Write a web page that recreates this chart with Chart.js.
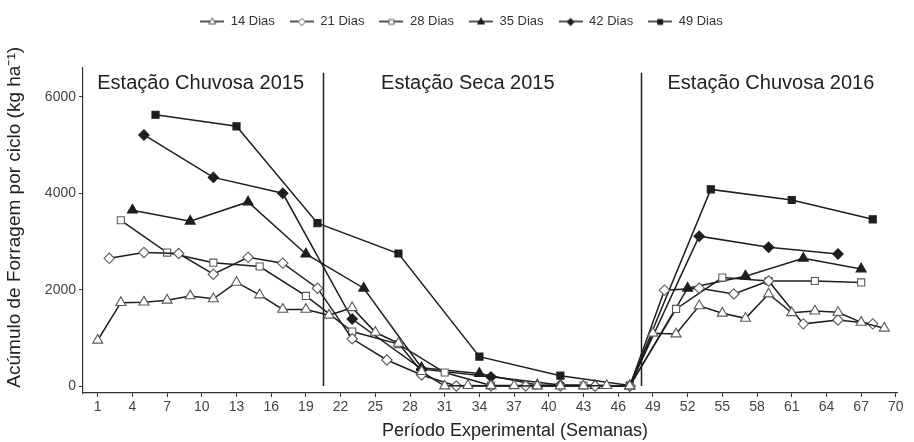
<!DOCTYPE html>
<html>
<head>
<meta charset="utf-8">
<script src="https://cdn.jsdelivr.net/npm/chart.js@4.4.1/dist/chart.umd.min.js"></script>
<style>
  body { margin: 0; background: #fff; }
  canvas { display: block; }
</style>
</head>
<body>
<canvas id="chart" width="914" height="442"></canvas>
<script>
// cutting intervals (legend labels)
const seriesNames = ['14 Dias', '21 Dias', '28 Dias', '35 Dias', '42 Dias', '49 Dias'];

// weeks of each harvest and forage accumulation (kg/ha) per cycle
const weeks14 = [1, 3, 5, 7, 9, 11, 13, 15, 17, 19, 21, 23, 25, 27, 29, 31, 33, 35, 37, 39, 41, 43, 45, 47, 49, 51, 53, 55, 57, 59, 61, 63, 65, 67, 69];
const forage14 = [950, 1730, 1740, 1780, 1870, 1810, 2150, 1890, 1590, 1590, 1470, 1625, 1115, 885, 300, 0, 10, 5, 5, 0, 0, 0, 10, 0, 1095, 1080, 1665, 1510, 1405, 1910, 1520, 1555, 1530, 1320, 1200];

const weeks21 = [2, 5, 8, 11, 14, 17, 20, 23, 26, 29, 32, 35, 38, 41, 44, 47, 50, 53, 56, 59, 62, 65, 68];
const forage21 = [2650, 2770, 2750, 2320, 2670, 2550, 2030, 980, 540, 230, 0, 0, 0, 0, 0, 0, 1990, 2030, 1910, 2180, 1290, 1370, 1290];

const weeks28 = [3, 7, 11, 15, 19, 23, 27, 31, 35, 39, 43, 47, 51, 55, 59, 63, 67];
const forage28 = [3440, 2770, 2560, 2480, 1870, 1130, 870, 280, 10, 10, 10, 0, 1600, 2250, 2180, 2180, 2150];

const weeks35 = [4, 9, 14, 19, 24, 29, 34, 39, 44, 47, 52, 57, 62, 67];
const forage35 = [3650, 3420, 3820, 2740, 2030, 380, 260, 20, 10, 0, 2030, 2280, 2650, 2430];

const weeks42 = [5, 11, 17, 23, 29, 35, 41, 47, 53, 59, 65];
const forage42 = [5210, 4330, 4000, 1390, 350, 190, 20, 0, 3110, 2880, 2740];

const weeks49 = [6, 13, 20, 27, 34, 41, 47, 54, 61, 68];
const forage49 = [5630, 5390, 3380, 2750, 610, 215, 10, 4080, 3860, 3460];

const xTicks = [1, 4, 7, 10, 13, 16, 19, 22, 25, 28, 31, 34, 37, 40, 43, 46, 49, 52, 55, 58, 61, 64, 67, 70];
const yTicks = [0, 2000, 4000, 6000];

// season limits and their titles
const seasonBreaks = [20.5, 48];
const seasonLabels = ['Estação Chuvosa 2015', 'Estação Seca 2015', 'Estação Chuvosa 2016'];
const seasonLabelWeeks = [9.9, 33, 59.2];

const allWeeks = [weeks14, weeks21, weeks28, weeks35, weeks42, weeks49];
const allForage = [forage14, forage21, forage28, forage35, forage42, forage49];
const markers = ['triangle', 'rectRot', 'rect', 'triangle', 'rectRot', 'rect'];
const filled = [false, false, false, true, true, true];
const radius = [5.8, 5.2, 5, 5.8, 5.2, 5];

const LINE = '#1e1e1e';
const OPEN_EDGE = '#5a5a5a';
const FONT = '"Liberation Sans", Arial, Helvetica, sans-serif';
const NB = '\u00a0';

// small "line + marker" images for the legend
function drawMarker(g, style, x, y, r) {
  g.beginPath();
  if (style === 'triangle') {
    g.moveTo(x, y - r);
    g.lineTo(x + r * 0.866, y + r * 0.5);
    g.lineTo(x - r * 0.866, y + r * 0.5);
  } else if (style === 'rectRot') {
    g.moveTo(x, y - r);
    g.lineTo(x + r, y);
    g.lineTo(x, y + r);
    g.lineTo(x - r, y);
  } else {
    const s = r * Math.SQRT1_2;
    g.rect(x - s, y - s, 2 * s, 2 * s);
  }
  g.closePath();
  g.fill();
  g.stroke();
}

function legendIcon(i) {
  const c = document.createElement('canvas');
  c.width = 24; c.height = 12;
  const g = c.getContext('2d');
  g.strokeStyle = LINE; g.lineWidth = 1.5;
  g.beginPath(); g.moveTo(0, 6); g.lineTo(24, 6); g.stroke();
  g.fillStyle = filled[i] ? LINE : '#fff';
  g.strokeStyle = filled[i] ? LINE : OPEN_EDGE;
  g.lineWidth = 1;
  drawMarker(g, markers[i], 12, 6.5, radius[i] * 0.7);
  return c;
}
const legendIcons = seriesNames.map((n, i) => legendIcon(i));

const datasets = seriesNames.map((name, i) => ({
  label: name,
  data: allWeeks[i].map((w, j) => ({ x: w, y: allForage[i][j] })),
  borderColor: LINE,
  borderWidth: 1.5,
  pointStyle: markers[i],
  pointRadius: radius[i],
  pointBorderWidth: 1.1,
  pointBackgroundColor: filled[i] ? LINE : '#fff',
  pointBorderColor: filled[i] ? LINE : OPEN_EDGE,
  tension: 0,
  fill: false
}));

// fixed legend band height, legend row nudged a little to the right
const legendHeight = {
  id: 'legendHeight',
  beforeInit(chart) {
    const fit = chart.legend.fit;
    chart.legend.fit = function () {
      fit.call(this);
      this.height = 68;
      if (this.lineWidths) this.lineWidths = this.lineWidths.map(w => w - 26);
    };
  }
};

const seasons = {
  id: 'seasons',
  beforeDatasetsDraw(chart) {
    const { ctx, scales: { x, y } } = chart;
    ctx.save();
    ctx.strokeStyle = LINE;
    ctx.lineWidth = 1.5;
    seasonBreaks.forEach(b => {
      const px = Math.round(x.getPixelForValue(b)) + 0.5;
      ctx.beginPath();
      ctx.moveTo(px, y.getPixelForValue(0));
      ctx.lineTo(px, y.getPixelForValue(6500));
      ctx.stroke();
    });
    ctx.font = '20px ' + FONT;
    ctx.fillStyle = '#222';
    ctx.textAlign = 'center';
    ctx.textBaseline = 'middle';
    seasonLabels.forEach((t, i) => {
      ctx.fillText(t, x.getPixelForValue(seasonLabelWeeks[i]), y.getPixelForValue(6270));
    });
    ctx.restore();
  }
};

const ctx = document.getElementById('chart').getContext('2d');

new Chart(ctx, {
  type: 'line',
  data: { datasets: datasets },
  options: {
    responsive: false,
    animation: false,
    layout: { padding: { left: 0, right: 17, top: 0, bottom: 0 } },
    plugins: {
      legend: {
        position: 'top',
        labels: {
          usePointStyle: true,
          pointStyleWidth: 24,
          padding: 15,
          color: '#333',
          font: { family: FONT, size: 13 },
          generateLabels: chart => chart.data.datasets.map((ds, i) => ({
            text: ds.label,
            pointStyle: legendIcons[i],
            datasetIndex: i,
            hidden: false,
            lineWidth: 0,
            fillStyle: '#fff',
            strokeStyle: '#fff',
            fontColor: '#333'
          }))
        }
      },
      tooltip: { enabled: false }
    },
    scales: {
      x: {
        type: 'linear',
        min: -0.27,
        max: 70.1,
        afterBuildTicks: scale => { scale.ticks = xTicks.map(v => ({ value: v })); },
        afterFit: scale => { scale.height = 49; },
        grid: { drawOnChartArea: false, color: '#333', tickLength: 4 },
        border: { display: true, color: '#333', width: 1.2 },
        ticks: { color: '#444', font: { family: FONT, size: 14 }, padding: 2, maxRotation: 0, autoSkip: false, callback: v => String(v) },
        title: {
          display: true,
          text: NB.repeat(10) + 'Período Experimental (Semanas)',
          color: '#222',
          font: { family: FONT, size: 18 },
          padding: { top: 0, bottom: 0 }
        }
      },
      y: {
        min: -145,
        max: 6600,
        afterBuildTicks: scale => { scale.ticks = yTicks.map(v => ({ value: v })); },
        afterFit: scale => { scale.width = 83; },
        grid: { drawOnChartArea: false, color: '#333', tickLength: 4 },
        border: { display: true, color: '#333', width: 1.2 },
        ticks: { color: '#444', font: { family: FONT, size: 14 }, padding: 3, callback: v => String(v) },
        title: {
          display: true,
          text: NB.repeat(5) + 'Acúmulo de Forragem por ciclo (kg ha⁻¹)',
          color: '#222',
          font: { family: FONT, size: 19 },
          padding: { top: 3, bottom: 0 }
        }
      }
    }
  },
  plugins: [legendHeight, seasons]
});
</script>
</body>
</html>
